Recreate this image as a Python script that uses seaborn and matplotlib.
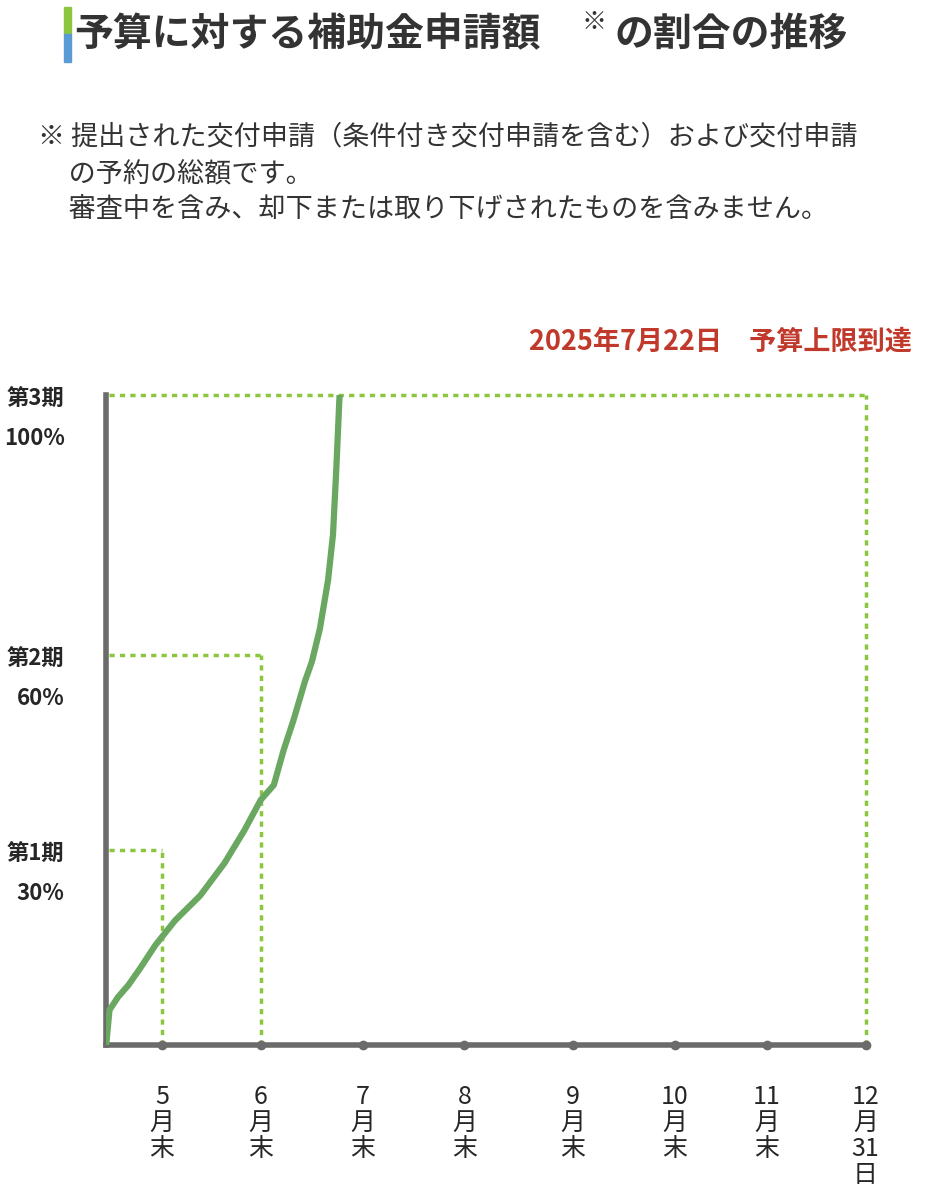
import matplotlib.pyplot as plt
import seaborn as sns
import pandas as pd

sns.set_theme(style="white")
plt.rcParams['font.family'] = ['Noto Sans CJK JP', 'DejaVu Sans']

# days since start (mid May) and cumulative share of budget (%)
days = [0, 1, 3.6, 6.7, 10.3, 15, 21, 28.6, 36, 42, 47, 51, 54, 57, 60.5, 62.6, 65, 67.5, 69, 70, 71]
share = [0, 5.4, 7.4, 9.2, 11.8, 15.4, 19.2, 23, 28, 33, 37.7, 40, 45.4, 50, 56, 59, 64, 71.5, 78.5, 88.5, 100]

tick_days = [17, 47, 78, 109, 142, 173, 201, 231]
tick_labels = ["5\n月\n末", "6\n月\n末", "7\n月\n末", "8\n月\n末", "9\n月\n末",
               "10\n月\n末", "11\n月\n末", "12\n月\n31\n日"]
phase_levels = [30, 60, 100]
phase_ends = [17, 47, 231]
phase_labels = ["第1期\n30%", "第2期\n60%", "第3期\n100%"]

df = pd.DataFrame({"day": days, "share": share})

fig = plt.figure(figsize=(9.48, 12), dpi=100)
ax = fig.add_axes([0.112, 0.129, 0.801, 0.542])

dot = "#8cc63f"
for lvl, end in zip(phase_levels, phase_ends):
    ax.plot([1, end], [lvl, lvl], ls=(0, (1.5, 1.5)), color=dot, lw=2.5, clip_on=False)
    ax.plot([end, end], [0, lvl], ls=(0, (1.5, 1.5)), color=dot, lw=2.5, clip_on=False)

sns.lineplot(data=df, x="day", y="share", ax=ax, color="#6aa861", lw=4.5, zorder=3)

ax.set_xlim(0, 231)
ax.set_ylim(0, 100)
for s in ["top", "right"]:
    ax.spines[s].set_visible(False)
for s in ["left", "bottom"]:
    ax.spines[s].set_color("#6b6b6b")
    ax.spines[s].set_linewidth(4)
ax.plot(tick_days, [0] * len(tick_days), "o", color="#6b6b6b", ms=6, clip_on=False, zorder=4)
ax.set_xticks(tick_days)
ax.set_xticklabels(tick_labels, fontsize=18, linespacing=1.0, va="top")
ax.tick_params(axis="x", length=0, pad=28)
ax.set_yticks(phase_levels)
ax.set_yticklabels(phase_labels, fontsize=16, fontweight="bold", linespacing=1.9,
                   ha="right", va="bottom")
ax.tick_params(axis="y", length=0, pad=30)
ax.set_xlabel("")
ax.set_ylabel("")
for t in ax.get_yticklabels():
    t.set_transform(t.get_transform() + __import__("matplotlib").transforms.ScaledTranslation(0, -0.55, fig.dpi_scale_trans))

# header
fig.patches.append(plt.Rectangle((0.067, 0.9715), 0.0075, 0.023, transform=fig.transFigure, color="#8cc63f"))
fig.patches.append(plt.Rectangle((0.067, 0.9485), 0.0075, 0.023, transform=fig.transFigure, color="#5b9bd5"))
fig.text(0.078, 0.971, "予算に対する補助金申請額", fontsize=28, fontweight="bold", color="#333333", va="center")
fig.text(0.613, 0.982, "※", fontsize=18, fontweight="bold", color="#333333", va="center")
fig.text(0.648, 0.971, "の割合の推移", fontsize=28, fontweight="bold", color="#333333", va="center")

fig.text(0.040, 0.897, "※ 提出された交付申請（条件付き交付申請を含む）および交付申請\n     の予約の総額です。\n     審査中を含み、却下または取り下げされたものを含みません。",
         fontsize=19.5, color="#333333", va="top", linespacing=1.45)

fig.text(0.962, 0.715, "2025年7月22日　予算上限到達", fontsize=19.5, fontweight="bold",
         color="#c0392b", ha="right", va="center")

fig.savefig("out.png", dpi=100)
